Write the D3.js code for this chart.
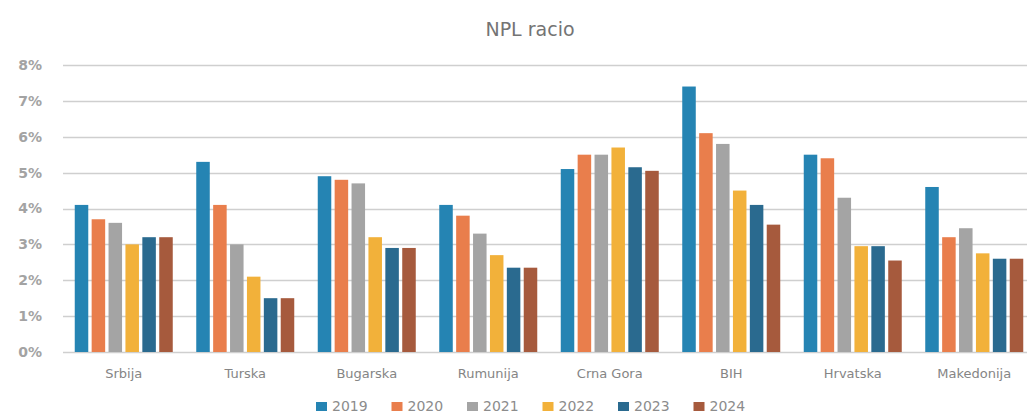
<!DOCTYPE html>
<html>
<head>
<meta charset="utf-8">
<script src="https://cdn.jsdelivr.net/npm/d3@7"></script>
<style>
  body { margin: 0; background: #fff; }
  svg text { font-family: "DejaVu Sans", sans-serif; fill: #8c8c8c; }
</style>
</head>
<body>
<div id="chart"></div>
<script>
var countries = ["Srbija", "Turska", "Bugarska", "Rumunija", "Crna Gora", "BIH", "Hrvatska", "Makedonija"];
var years = ["2019", "2020", "2021", "2022", "2023", "2024"];
var colors = ["#2584b3", "#e97e4c", "#a4a4a4", "#f2b13a", "#2a6a8f", "#a65a3d"];

var v2019 = [4.1, 5.3, 4.9, 4.1, 5.1, 7.4, 5.5, 4.6];
var v2020 = [3.7, 4.1, 4.8, 3.8, 5.5, 6.1, 5.4, 3.2];
var v2021 = [3.6, 3.0, 4.7, 3.3, 5.5, 5.8, 4.3, 3.45];
var v2022 = [3.0, 2.1, 3.2, 2.7, 5.7, 4.5, 2.95, 2.75];
var v2023 = [3.2, 1.5, 2.9, 2.35, 5.15, 4.1, 2.95, 2.6];
var v2024 = [3.2, 1.5, 2.9, 2.35, 5.05, 3.55, 2.55, 2.6];
var yTicks = [0, 0.01, 0.02, 0.03, 0.04, 0.05, 0.06, 0.07, 0.08];

var series = [v2019, v2020, v2021, v2022, v2023, v2024];

var W = 1027, H = 419;
var margin = {top: 65, right: -8, bottom: 67, left: 63},
    width = W - margin.left - margin.right,
    height = H - margin.top - margin.bottom;

var svg = d3.select("#chart").append("svg")
    .attr("width", W)
    .attr("height", H);

var g = svg.append("g")
    .attr("transform", "translate(" + margin.left + "," + margin.top + ")");

var x0 = d3.scaleBand().domain(countries).range([0, width]).paddingInner(0).paddingOuter(0);
var x1 = d3.scaleBand().domain(years).range([0, 98]).paddingInner(0.2);
var y = d3.scaleLinear().domain([0, 0.08]).range([height, 0]);

svg.append("text")
    .attr("x", 530)
    .attr("y", 36)
    .attr("text-anchor", "middle")
    .style("font-size", "19px")
    .style("fill", "#747474")
    .text("NPL racio");

// gridlines
g.append("g")
    .selectAll("line")
    .data(yTicks)
    .enter().append("line")
      .attr("x1", 0)
      .attr("x2", width)
      .attr("y1", function(d) { return Math.round(y(d)) + 0.5; })
      .attr("y2", function(d) { return Math.round(y(d)) + 0.5; })
      .attr("stroke", "#cfcfcf")
      .attr("stroke-width", 1.3);

// y axis labels
var yAxis = g.append("g")
    .call(d3.axisLeft(y).tickValues(yTicks).tickFormat(d3.format(".0%")).tickSize(0).tickPadding(21));
yAxis.select(".domain").remove();
yAxis.selectAll("text")
    .style("font-size", "14px")
    .style("font-weight", "bold")
    .style("fill", "#a3a3a3");

// x axis labels
var xAxis = g.append("g")
    .attr("transform", "translate(0," + height + ")")
    .call(d3.axisBottom(x0).tickSize(0).tickPadding(17));
xAxis.select(".domain").remove();
xAxis.selectAll("text")
    .style("font-size", "13px")
    .style("fill", "#858585");

// bars
var groups = g.selectAll(".grp")
    .data(countries)
    .enter().append("g")
      .attr("class", "grp")
      .attr("transform", function(d) { return "translate(" + (x0(d) + (x0.bandwidth() - 98) / 2) + ",0)"; });

groups.selectAll("rect")
    .data(function(d, i) { return series.map(function(s, j) { return {year: years[j], value: s[i] / 100, c: colors[j]}; }); })
    .enter().append("rect")
      .attr("x", function(d) { return x1(d.year); })
      .attr("y", function(d) { return y(d.value); })
      .attr("width", x1.bandwidth())
      .attr("height", function(d) { return height - y(d.value); })
      .attr("fill", function(d) { return d.c; });

// legend
var legend = svg.append("g")
    .attr("transform", "translate(316,411)");

var item = legend.selectAll("g")
    .data(years)
    .enter().append("g")
      .attr("transform", function(d, i) { return "translate(" + (i * 75.5) + ",0)"; });

item.append("rect")
    .attr("x", 0)
    .attr("y", -9)
    .attr("width", 11)
    .attr("height", 9)
    .attr("fill", function(d, i) { return colors[i]; });

item.append("text")
    .attr("x", 16)
    .attr("y", 0)
    .style("font-size", "14px")
    .style("fill", "#8c8c8c")
    .text(function(d) { return d; });
</script>
</body>
</html>
